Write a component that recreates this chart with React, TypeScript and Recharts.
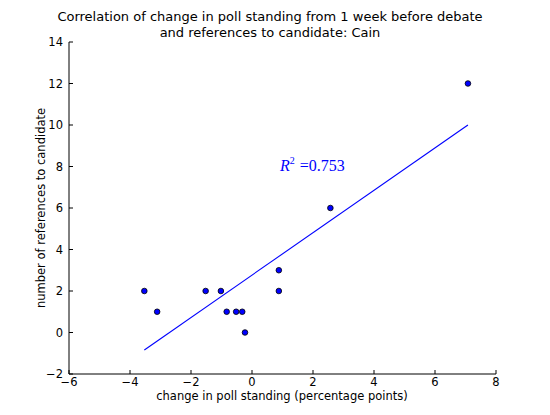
import React from 'react';
import { ComposedChart, Scatter, Line, XAxis, YAxis, ReferenceDot } from 'recharts';

const pollChange = [-3.53, -3.11, -1.52, -1.02, -0.83, -0.52, -0.32, -0.23, 0.88, 0.88, 2.57, 7.08];
const references = [2, 1, 2, 2, 1, 1, 1, 0, 3, 2, 6, 12];
const fitX = [-3.53, 7.08];
const fitY = [-0.84, 10.0];
const xTicks = [-6, -4, -2, 0, 2, 4, 6, 8];
const yTicks = [-2, 0, 2, 4, 6, 8, 10, 12, 14];
const titleLines = [
  'Correlation of change in poll standing from 1 week before debate',
  'and references to candidate: Cain',
];
const xLabel = 'change in poll standing (percentage points)';
const yLabel = 'number of references to candidate';
const annotation = { x: 0.92, y: 7.8, r2: '0.753' };

const scatterData = pollChange.map((x, i) => ({ x, y: references[i] }));
const lineData = fitX.map((x, i) => ({ x, y: fitY[i] }));

const W = 550;
const H = 415;
const FONT = '"DejaVu Sans", sans-serif';
const fmt = (v: number) => String(v).replace('-', '\u2212');

const BottomTick = (props: any) => {
  const { x, y, payload } = props;
  return (
    <g>
      <line x1={x} x2={x} y1={y} y2={y - 4} stroke="#000" strokeWidth={1} />
      <text x={x} y={y + 12} textAnchor="middle" fontSize={11.5} fontFamily={FONT} fill="#000">
        {fmt(payload.value)}
      </text>
    </g>
  );
};
const TopTick = (props: any) => {
  const { x, y } = props;
  return <line x1={x} x2={x} y1={y} y2={y + 4} stroke="#000" strokeWidth={1} />;
};
const LeftTick = (props: any) => {
  const { x, y, payload } = props;
  return (
    <g>
      <line x1={x} x2={x + 4} y1={y} y2={y} stroke="#000" strokeWidth={1} />
      <text x={x - 6} y={y + 4} textAnchor="end" fontSize={11.5} fontFamily={FONT} fill="#000">
        {fmt(payload.value)}
      </text>
    </g>
  );
};
const RightTick = (props: any) => {
  const { x, y } = props;
  return <line x1={x} x2={x - 4} y1={y} y2={y} stroke="#000" strokeWidth={1} />;
};

const Dot = (props: any) => {
  const { cx, cy } = props;
  return <circle cx={cx} cy={cy} r={2.8} fill="#0000ff" stroke="#000" strokeWidth={0.8} />;
};

const AnnotationShape = (props: any) => {
  const { cx, cy } = props;
  return (
    <text x={cx} y={cy} fontFamily='"Liberation Serif", serif' fontSize={16} fill="#0000ff">
      <tspan fontStyle="italic">R</tspan>
      <tspan fontSize={10} dy={-7}>2</tspan>
      <tspan dy={7} dx={5}>{'=' + annotation.r2}</tspan>
    </text>
  );
};

export default function App() {
  return (
    <div style={{ position: 'absolute', left: 0, top: 0, width: W, height: H, background: '#fff' }}>
      <svg width={W} height={H} style={{ position: 'absolute', left: 0, top: 0 }}>
        {titleLines.map((t, i) => (
          <text key={i} x={270} y={21 + i * 16} textAnchor="middle" fontSize={13} fontFamily={FONT} fill="#000">
            {t}
          </text>
        ))}
        <text x={282} y={400} textAnchor="middle" fontSize={11.5} fontFamily={FONT} fill="#000">
          {xLabel}
        </text>
        <text
          x={0}
          y={0}
          transform={`translate(45, 208) rotate(-90)`}
          textAnchor="middle"
          fontSize={11.5}
          fontFamily={FONT}
          fill="#000"
        >
          {yLabel}
        </text>
      </svg>
      <div style={{ position: 'absolute', left: 0, top: 0 }}>
        <ComposedChart width={W} height={H} margin={{ top: 42, right: 54, left: 0, bottom: 0 }}>
          <XAxis
            xAxisId="bottom"
            dataKey="x"
            type="number"
            domain={[-6, 8]}
            ticks={xTicks}
            orientation="bottom"
            height={41}
            tickSize={0}
            tickMargin={0}
            tickLine={false}
            tick={<BottomTick />}
            axisLine={{ stroke: '#000', strokeWidth: 1 }}
            allowDataOverflow
            interval={0}
          />
          <XAxis
            xAxisId="top"
            dataKey="x"
            type="number"
            domain={[-6, 8]}
            ticks={xTicks}
            orientation="top"
            height={0}
            tickSize={0}
            tickMargin={0}
            tickLine={false}
            tick={<TopTick />}
            axisLine={{ stroke: '#000', strokeWidth: 1 }}
            allowDataOverflow
            interval={0}
          />
          <YAxis
            yAxisId="left"
            dataKey="y"
            type="number"
            domain={[-2, 14]}
            ticks={yTicks}
            orientation="left"
            width={69}
            tickSize={0}
            tickMargin={0}
            tickLine={false}
            tick={<LeftTick />}
            axisLine={{ stroke: '#000', strokeWidth: 1 }}
            allowDataOverflow
            interval={0}
          />
          <YAxis
            yAxisId="right"
            dataKey="y"
            type="number"
            domain={[-2, 14]}
            ticks={yTicks}
            orientation="right"
            width={0}
            tickSize={0}
            tickMargin={0}
            tickLine={false}
            tick={<RightTick />}
            axisLine={{ stroke: '#000', strokeWidth: 1 }}
            allowDataOverflow
            interval={0}
          />
          <Line
            data={lineData}
            xAxisId="top"
            yAxisId="right"
            dataKey="y"
            stroke="#0000ff"
            strokeWidth={1.1}
            dot={false}
            activeDot={false}
            isAnimationActive={false}
          />
          <Scatter
            data={scatterData}
            xAxisId="bottom"
            yAxisId="left"
            dataKey="y"
            shape={<Dot />}
            isAnimationActive={false}
          />
          <ReferenceDot
            xAxisId="bottom"
            yAxisId="left"
            x={annotation.x}
            y={annotation.y}
            r={0}
            shape={<AnnotationShape />}
          />
        </ComposedChart>
      </div>
    </div>
  );
}
